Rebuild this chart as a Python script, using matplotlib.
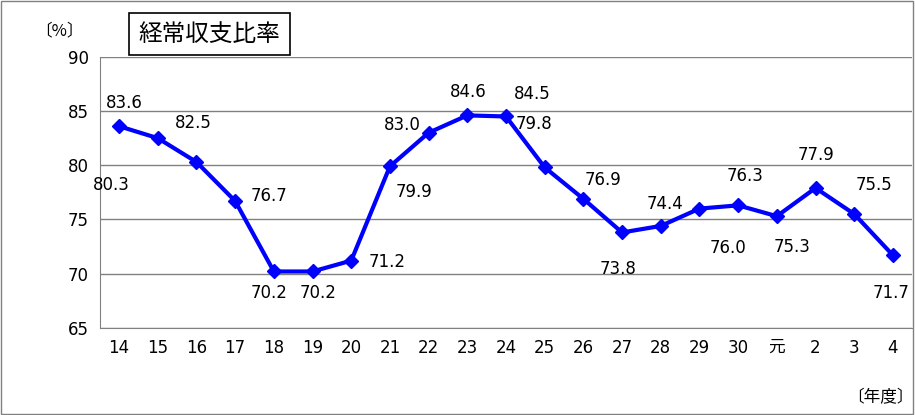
import matplotlib
matplotlib.use("Agg")
import matplotlib.pyplot as plt
from matplotlib.patches import Rectangle

plt.rcParams["font.family"] = "Noto Sans CJK JP"

years = ["14","15","16","17","18","19","20","21","22","23","24","25","26","27","28","29","30","元","2","3","4"]
ratio = [83.6,82.5,80.3,76.7,70.2,70.2,71.2,79.9,83.0,84.6,84.5,79.8,76.9,73.8,74.4,76.0,76.3,75.3,77.9,75.5,71.7]
yticks = [65,70,75,80,85,90]

# label offsets in pixels (style), y downward
offs = [(5,-23),(36,-15),(-85,23),(34,-5),(-5,22),(6,22),(36,1),(24,26),(-26,-8),(1,-23),(26,-22),
        (-11,-43),(20,-19),(-4,37),(4,-22),(29,39),(7,-29),(15,31),(0,-33),(20,-29),(-2,38)]

fig = plt.figure(figsize=(9.15,4.15), dpi=100)
fig.patches.append(Rectangle((0.001,0.002),0.997,0.995, transform=fig.transFigure, fill=False, ec="#808080", lw=1))
ax = fig.add_axes([0.109,0.21,0.888,0.653])
x = list(range(len(years)))
ax.plot(x, ratio, color="#0000FF", lw=3, marker="D", ms=7, zorder=3)
for i,(v,o) in enumerate(zip(ratio,offs)):
    ax.annotate(f"{v:.1f}", (i,v), xytext=(o[0],-o[1]), textcoords="offset pixels",
                ha="center", va="center", fontsize=12, family="DejaVu Sans")
ax.set_xlim(-0.5, len(years)-0.5)
ax.set_ylim(65,90)
ax.set_yticks(yticks)
ax.set_xticks(x)
ax.set_xticklabels(years, fontsize=12)
ax.tick_params(axis="y", labelsize=12, length=0, pad=8)
ax.tick_params(axis="x", length=0, pad=8)
for lab in ax.get_xticklabels()+ax.get_yticklabels():
    if lab.get_text()!="元":
        lab.set_family("DejaVu Sans")
ax.yaxis.grid(True, color="#808080", lw=1)
ax.set_axisbelow(True)
for s in ["top","right"]:
    ax.spines[s].set_visible(False)
for s in ["left","bottom"]:
    ax.spines[s].set_color("#808080")
fig.text(0.065,0.925,"〔%〕", fontsize=12, ha="center", va="center")
fig.text(0.962,0.02,"〔年度〕", fontsize=12, ha="center", va="bottom")
fig.text(0.229,0.918,"経常収支比率", fontsize=17, ha="center", va="center",
         bbox=dict(boxstyle="square,pad=0.4", fc="white", ec="black", lw=1.2))
fig.savefig("out.png", dpi=100)
